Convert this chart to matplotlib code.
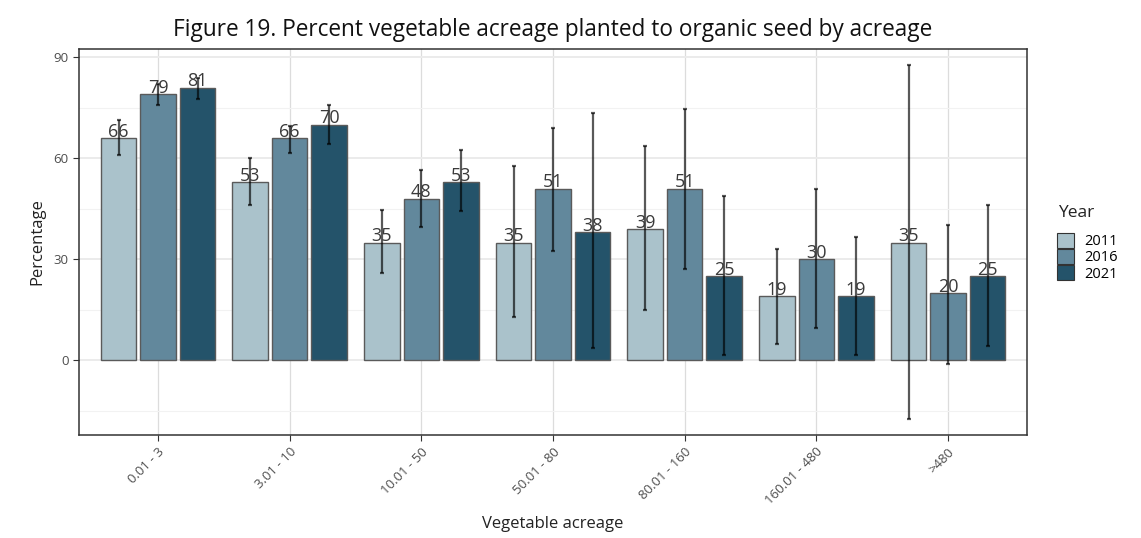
import matplotlib
matplotlib.use("Agg")
import matplotlib.pyplot as plt
import numpy as np
from matplotlib.patches import Patch

plt.rcParams["font.family"] = ["Open Sans", "DejaVu Sans"]

categorias = ["0.01 - 3", "3.01 - 10", "10.01 - 50", "50.01 - 80",
              "80.01 - 160", "160.01 - 480", ">480"]
anios = ["2011", "2016", "2021"]
colores = ["#aac2cb", "#62889c", "#24536a"]

valores = {
    "2011": [66, 53, 35, 35, 39, 19, 35],
    "2016": [79, 66, 48, 51, 51, 30, 20],
    "2021": [81, 70, 53, 38, 25, 19, 25],
}
error_bajo = {
    "2011": [61, 46, 26, 13, 15, 4.7, -17.4],
    "2016": [76, 61.6, 39.5, 32.6, 27, 9.7, -1],
    "2021": [77.7, 64.4, 44.5, 3.8, 1.5, 1.5, 4.2],
}
error_alto = {
    "2011": [71.5, 60, 44.7, 57.8, 63.6, 33, 87.6],
    "2016": [82, 69.5, 56.4, 69, 74.7, 50.9, 40.2],
    "2021": [84, 76, 62.4, 73.5, 48.9, 36.6, 46.1],
}

fig = plt.figure(figsize=(11.41, 5.38), dpi=100)
ax = fig.add_axes([79 / 1141, 1 - 435 / 538, (1027 - 79) / 1141, (435 - 49) / 538])

x = np.arange(1, len(categorias) + 1)
desplaz = [-0.3, 0, 0.3]

for i, anio in enumerate(anios):
    pos = x + desplaz[i]
    vals = np.array(valores[anio])
    ax.bar(pos, vals, width=0.27, color=colores[i], edgecolor="#5a5a5a",
           linewidth=1.0, zorder=2)
    bajo = np.array(error_bajo[anio])
    alto = np.array(error_alto[anio])
    ax.errorbar(pos, vals, yerr=[vals - bajo, alto - vals], fmt="none",
                ecolor="black", alpha=0.65, elinewidth=1.6, capsize=1.5,
                capthick=1.6, zorder=3)
    for p, v in zip(pos, vals):
        ax.text(p, v - 0.8, str(v), ha="center", va="bottom", fontsize=13,
                color="#3a3a3a", zorder=4)

ax.set_xlim(0.4, 7.6)
ax.set_ylim(-22.2, 92.5)
ax.set_yticks([0, 30, 60, 90])
ax.set_yticks([-15, 15, 45, 75], minor=True)
ax.set_xticks(x)
ax.set_xticklabels(categorias, rotation=45, ha="right", rotation_mode="anchor",
                   fontsize=9.5, color="#4d4d4d")
ax.tick_params(axis="y", labelsize=9.5, labelcolor="#4d4d4d", color="#333333", length=4)
ax.tick_params(axis="y", which="minor", length=0)
ax.tick_params(axis="x", color="#333333", length=4)

ax.grid(True, which="major", axis="y", color="#ebebeb", linewidth=1.4, zorder=0)
ax.grid(True, which="minor", axis="y", color="#f2f2f2", linewidth=0.8, zorder=0)
ax.grid(True, which="major", axis="x", color="#dcdcdc", linewidth=0.9, zorder=0)
ax.set_axisbelow(True)
for s in ax.spines.values():
    s.set_color("#333333")
    s.set_linewidth(1.1)

ax.set_xlabel("Vegetable acreage", fontsize=12, color="#222222", labelpad=6)
ax.set_ylabel("Percentage", fontsize=12, color="#222222", labelpad=6)
ax.set_title("Figure 19. Percent vegetable acreage planted to organic seed by acreage",
             fontsize=16.3, color="#111111", pad=9)

# leyenda: titulo aparte para controlar el espacio
fig.text(1058 / 1141, 1 - 213 / 538, "Year", fontsize=12.5, color="#222222",
         ha="left", va="center")
manijas = [Patch(facecolor=colores[i], edgecolor="#333333", linewidth=0.8)
           for i in range(len(anios))]
leg = fig.legend(manijas, anios, loc="upper left",
                 bbox_to_anchor=(1044 / 1141, 1 - 220 / 538), frameon=False,
                 handlelength=1.15, handleheight=1.15, labelspacing=0.0,
                 handletextpad=0.7, fontsize=10.5)

fig.savefig("out.png", dpi=100)
